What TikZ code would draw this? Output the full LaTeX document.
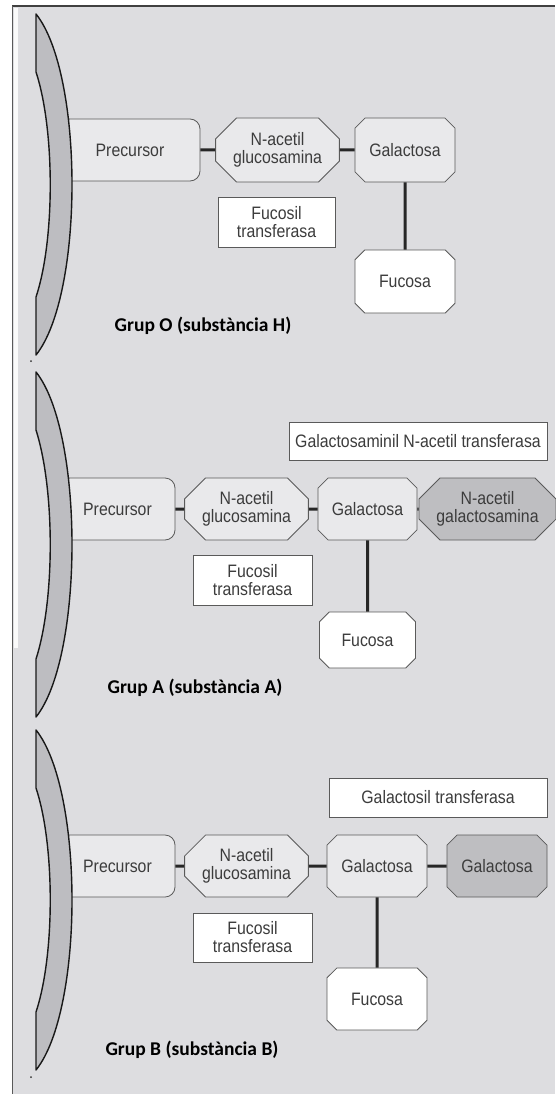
\documentclass[tikz,border=0pt]{standalone}
\usepackage{fontspec}
\setmainfont{Liberation Sans}[FakeStretch=0.88]
\newfontfamily\labelfont{Carlito}
\usepackage{tikz}
\usepackage{xcolor}
\usetikzlibrary{shapes.misc}
\definecolor{PanelGray}{HTML}{DDDDE0}
\definecolor{SugarLight}{HTML}{E9E9EB}
\definecolor{SugarDark}{HTML}{BEBEC1}
\definecolor{MembraneGray}{HTML}{BDBDC1}
\definecolor{InkGray}{HTML}{3C3C3C}
\definecolor{EdgeGray}{HTML}{5A5A5A}

\begin{document}
\begin{tikzpicture}[x=1pt, y=-1pt,
    every node/.style={font=\fontsize{18}{18}\selectfont, text=InkGray, align=center, inner sep=0pt},
    sugar/.style={chamfered rectangle, chamfered rectangle xsep=18pt, draw=EdgeGray, fill=SugarLight, line width=0.8pt},
    precursor/.style={rectangle, rounded corners=10pt, draw=EdgeGray, fill=SugarLight, line width=0.8pt},
    enzyme/.style={rectangle, draw=EdgeGray, fill=white, line width=0.8pt},
    bond/.style={line width=3pt, draw=black!85},
    membrane/.style={draw=black!90, fill=MembraneGray, line width=1.4pt, line join=round},
    grouplabel/.style={font=\labelfont\bfseries\fontsize{19.5}{20}\selectfont, text=black}]
    \useasboundingbox (0,0) rectangle (555,1094);

    % Background panel
    \fill[PanelGray] (12,6) rectangle (555,1094);
    \fill[white!85!PanelGray] (14,8) rectangle (18,648);
    \draw[line width=1.2pt, black!75] (12,6) -- (555,6);
    \draw[line width=1pt, black!65] (12,6) -- (12,1094);

    % ---------- Grup O ----------
    \node[precursor, minimum width=140pt, minimum height=62pt] (preO) at (130,150) {Precursor};
    \draw[membrane] (36,14) .. controls (84,74) and (84,295) .. (36,355)
        -- (36,297) .. controls (55,240) and (55,130) .. (36,72) -- cycle;
    \fill[black!80] (31,361) circle (1pt);
    \node[sugar, minimum width=119pt, minimum height=64pt] (nagO) at (277.5,150) {N-acetil\\glucosamina};
    \node[sugar, minimum width=100pt, minimum height=64pt] (galO) at (405,150) {Galactosa};
    \node[sugar, fill=white, minimum width=100pt, minimum height=63pt] (fucO) at (405,281.5) {Fucosa};
    \node[enzyme, minimum width=117pt, minimum height=50pt] (fucTO) at (276.5,222) {Fucosil\\transferasa};
    \draw[bond] (preO) -- (nagO);
    \draw[bond] (nagO) -- (galO);
    \draw[bond] (galO) -- (fucO);
    \node[grouplabel] (labO) at (203,326) {Grup O (substància H)};

    % ---------- Grup A ----------
    \node[precursor, minimum width=115pt, minimum height=62pt] (preA) at (117.5,509) {Precursor};
    \draw[membrane] (36,372) .. controls (84,432) and (84,657) .. (36,717)
        -- (36,659) .. controls (55,600) and (55,490) .. (36,430) -- cycle;
    \node[enzyme, minimum width=258pt, minimum height=38pt] (galNT) at (418,441) {Galactosaminil N-acetil transferasa};
    \node[sugar, minimum width=117pt, minimum height=62pt] (nagA) at (246.5,509) {N-acetil\\glucosamina};
    \node[sugar, minimum width=99pt, minimum height=62pt] (galA) at (367.5,509) {Galactosa};
    \node[sugar, fill=SugarDark, minimum width=119pt, minimum height=62pt] (ngalA) at (487.5,509) {N-acetil\\galactosamina};
    \node[sugar, fill=white, minimum width=96pt, minimum height=56pt] (fucA) at (367.5,640) {Fucosa};
    \node[enzyme, minimum width=119pt, minimum height=50pt] (fucTA) at (252.5,580) {Fucosil\\transferasa};
    \draw[bond] (preA) -- (nagA);
    \draw[bond] (nagA) -- (galA);
    \draw[bond] (galA) -- (ngalA);
    \draw[bond] (galA) -- (fucA);
    \node[grouplabel] (labA) at (195,688) {Grup A (substància A)};

    % ---------- Grup B ----------
    \node[precursor, minimum width=115pt, minimum height=62pt] (preB) at (117.5,866) {Precursor};
    \draw[membrane] (36,730) .. controls (84,790) and (84,1010) .. (36,1070)
        -- (36,1012) .. controls (55,955) and (55,845) .. (36,788) -- cycle;
    \fill[black!80] (31,1077) circle (1pt);
    \node[enzyme, minimum width=218pt, minimum height=39pt] (galT) at (438,797.5) {Galactosil transferasa};
    \node[sugar, minimum width=117pt, minimum height=62pt] (nagB) at (246.5,866) {N-acetil\\glucosamina};
    \node[sugar, minimum width=100pt, minimum height=62pt] (galB) at (377,866) {Galactosa};
    \node[sugar, fill=SugarDark, minimum width=100pt, minimum height=62pt] (galB2) at (497,866) {Galactosa};
    \node[sugar, fill=white, minimum width=100pt, minimum height=62pt] (fucB) at (377,999) {Fucosa};
    \node[enzyme, minimum width=119pt, minimum height=49pt] (fucTB) at (252.5,937.5) {Fucosil\\transferasa};
    \draw[bond] (preB) -- (nagB);
    \draw[bond] (nagB) -- (galB);
    \draw[bond] (galB) -- (galB2);
    \draw[bond] (galB) -- (fucB);
    \node[grouplabel] (labB) at (192,1050) {Grup B (substància B)};

\end{tikzpicture}
\end{document}
